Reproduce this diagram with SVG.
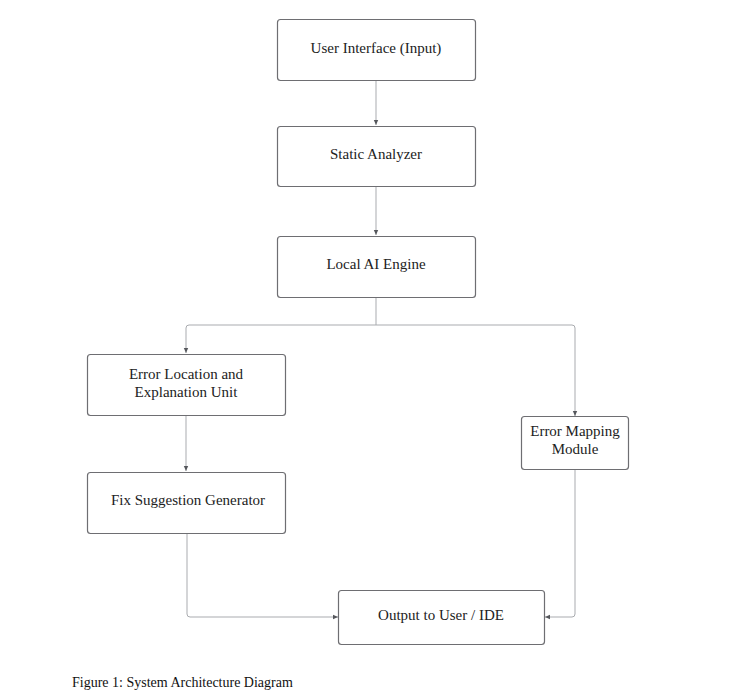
<svg xmlns="http://www.w3.org/2000/svg" width="736" height="699" viewBox="0 0 736 699">
<style>
.box{fill:#fff;stroke:#6e6e72;stroke-width:1.2}
.lbl{font-family:"Liberation Serif","Times New Roman",serif;font-size:15px;fill:#222;text-anchor:middle}
.cap{font-family:"Liberation Serif","Times New Roman",serif;font-size:14px;fill:#111}
.con{fill:none;stroke:#a9abaf;stroke-width:1}
</style>
<defs>
<marker id="ah" markerWidth="6" markerHeight="6" refX="5" refY="3" orient="auto" markerUnits="userSpaceOnUse">
<path d="M0,0.8 L5,3 L0,5.2 Z" fill="#55575c"/>
</marker>
</defs>
<rect width="736" height="699" fill="#fff"/>
<g id="connectors">
<path class="con" d="M376,80 V125" marker-end="url(#ah)"/>
<path class="con" d="M376,186 V235" marker-end="url(#ah)"/>
<path class="con" d="M376,297 V325 H189 Q186,325 186,328 V353" marker-end="url(#ah)"/>
<path class="con" d="M376,325 H572 Q575,325 575,328 V416" marker-end="url(#ah)"/>
<path class="con" d="M186,415 V471" marker-end="url(#ah)"/>
<path class="con" d="M187,533 V614 Q187,617 190,617 H338" marker-end="url(#ah)"/>
<path class="con" d="M575,470 V614 Q575,617 572,617 H545" marker-end="url(#ah)"/>
</g>
<g id="n1"><rect class="box" x="277.5" y="19.5" width="198" height="61" rx="3"/><text class="lbl" x="376" y="53">User Interface (Input)</text></g>
<g id="n2"><rect class="box" x="277.5" y="126.5" width="198" height="60" rx="3"/><text class="lbl" x="376" y="159">Static Analyzer</text></g>
<g id="n3"><rect class="box" x="277.5" y="236.5" width="198" height="61" rx="3"/><text class="lbl" x="376" y="269">Local AI Engine</text></g>
<g id="n4"><rect class="box" x="87.5" y="354.5" width="198" height="61" rx="3"/><text class="lbl" x="186" y="379">Error Location and</text><text class="lbl" x="186" y="397">Explanation Unit</text></g>
<g id="n5"><rect class="box" x="87.5" y="472.5" width="198" height="61" rx="3"/><text class="lbl" x="188" y="505">Fix Suggestion Generator</text></g>
<g id="n6"><rect class="box" x="521.5" y="416.5" width="107" height="53" rx="3"/><text class="lbl" x="575" y="436">Error Mapping</text><text class="lbl" x="575" y="454">Module</text></g>
<g id="n7"><rect class="box" x="338.5" y="590.5" width="206" height="54" rx="3"/><text class="lbl" x="441" y="620">Output to User / IDE</text></g>
<text class="cap" x="72" y="687">Figure 1: System Architecture Diagram</text>
</svg>
